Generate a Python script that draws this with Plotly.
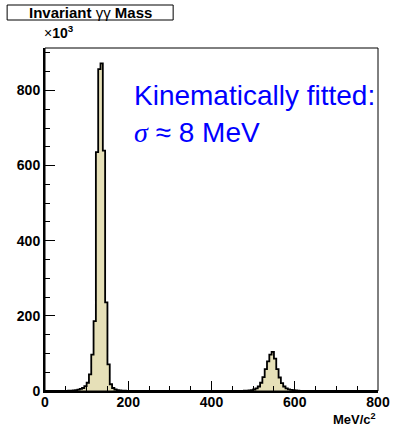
import plotly.graph_objects as go

# Histogram: 144 bins over 0-800 MeV/c^2, counts in units of 10^3
x_min = 0.0
x_max = 800.0
n_bins = 144

counts_k = [
    0, 0, 0, 0, 0, 0, 0, 0, 0, 0.3,
    0.6, 1.0, 1.6, 2.5, 3.8, 5.5, 8, 13, 22, 44,
    97, 186, 636, 857, 872, 640, 236, 71, 18, 8,
    4, 2.5, 1.6, 1.0, 0.7, 0.5, 0.3, 0.2, 0, 0,
    0, 0, 0, 0, 0, 0, 0, 0, 0, 0,
    0, 0, 0, 0, 0, 0, 0, 0, 0, 0,
    0, 0, 0, 0, 0, 0, 0, 0, 0, 0,
    0, 0, 0, 0, 0, 0, 0, 0, 0, 0,
    0, 0, 0, 0, 0.3, 0.4, 0.6, 1.0, 1.5, 2.5,
    4, 7, 12, 22, 37, 58, 79, 97, 104, 86,
    58, 36, 21, 12, 7, 4.5, 3, 2, 1.3, 0.8,
    0.5, 0.3, 0, 0, 0, 0, 0, 0, 0, 0,
    0, 0, 0, 0, 0, 0, 0, 0, 0, 0,
    0, 0, 0, 0, 0, 0, 0, 0, 0, 0,
    0, 0, 0, 0,
]

x_ticks = [0, 200, 400, 600, 800]
y_ticks = [0, 200, 400, 600, 800]
y_top = 913

bin_w = (x_max - x_min) / n_bins
centers = [x_min + (i + 0.5) * bin_w for i in range(n_bins)]
xs = [x_min] + centers + [x_max]
ys = [counts_k[0]] + counts_k + [counts_k[-1]]

fig = go.Figure()
fig.add_trace(go.Scatter(
    x=xs, y=ys, mode="lines", line=dict(shape="hvh", color="black", width=1.8),
    fill="tozeroy", fillcolor="#e6e0b8", hoverinfo="skip", showlegend=False,
))

tickfont = dict(family="Liberation Sans", size=14, color="black", weight="bold")

fig.update_xaxes(
    range=[x_min, x_max], tickvals=x_ticks, ticktext=[str(v) for v in x_ticks],
    ticks="inside", ticklen=10, tickwidth=1, tickcolor="black",
    minor=dict(dtick=50, ticks="inside", ticklen=5, tickwidth=1, tickcolor="black"),
    showline=True, linecolor="black", linewidth=2, mirror=False,
    showgrid=False, zeroline=False, tickfont=tickfont, ticklabelstandoff=-3,
)
fig.update_yaxes(
    range=[0, y_top], tickvals=y_ticks, ticktext=[str(v) for v in y_ticks],
    ticks="inside", ticklen=10, tickwidth=1, tickcolor="black",
    minor=dict(dtick=50, ticks="inside", ticklen=5, tickwidth=1, tickcolor="black"),
    showline=True, linecolor="black", linewidth=2, mirror=False,
    showgrid=False, zeroline=False, tickfont=tickfont,
)

# frame
fig.add_shape(type="rect", xref="paper", yref="paper", x0=0, y0=0, x1=1, y1=1,
              line=dict(color="black", width=1))
# title box
fig.add_shape(type="rect", xref="paper", yref="paper",
              x0=(6 - 45) / 343, x1=(177 - 45) / 343,
              y0=(391 - 20) / 343, y1=(391 - 5) / 343,
              line=dict(color="black", width=1), fillcolor="white")

fig.add_annotation(xref="paper", yref="paper", x=(91.5 - 45) / 343, y=(391 - 12.5) / 343,
                   xanchor="center", yanchor="middle", showarrow=False,
                   text="<b>Invariant </b>γγ<b> Mass</b>",
                   font=dict(family="Liberation Sans", size=15, color="black"))
fig.add_annotation(xref="paper", yref="paper", x=(42 - 45) / 343, y=(391 - 43) / 343,
                   xanchor="left", yanchor="bottom", showarrow=False,
                   text="×<b>10<sup>3</sup></b>",
                   font=dict(family="Liberation Sans", size=14, color="black"))
fig.add_annotation(xref="paper", yref="paper", x=1.0, y=(391 - 409) / 343,
                   xanchor="right", yanchor="top", showarrow=False,
                   text="<b>MeV/c<sup>2</sup></b>",
                   font=dict(family="Liberation Sans", size=13, color="black"))
fig.add_annotation(xref="paper", yref="paper", x=(135 - 45) / 343, y=(391 - 96) / 343,
                   xanchor="left", yanchor="middle", showarrow=False,
                   text="Kinematically fitted:",
                   font=dict(family="Liberation Sans", size=28, color="#0000ff"))
fig.add_annotation(xref="paper", yref="paper", x=(135 - 45) / 343, y=(391 - 132) / 343,
                   xanchor="left", yanchor="middle", showarrow=False,
                   text="<span style='font-family:Liberation Serif'><i>σ</i></span> ≈ 8 MeV",
                   font=dict(family="Liberation Sans", size=28, color="#0000ff"))

fig.update_layout(
    width=402, height=426, margin=dict(l=45, r=14, t=48, b=35),
    paper_bgcolor="white", plot_bgcolor="white",
)

fig.write_html("out.html", post_script="document.body.style.margin='0px';",
               config={"displayModeBar": False})
